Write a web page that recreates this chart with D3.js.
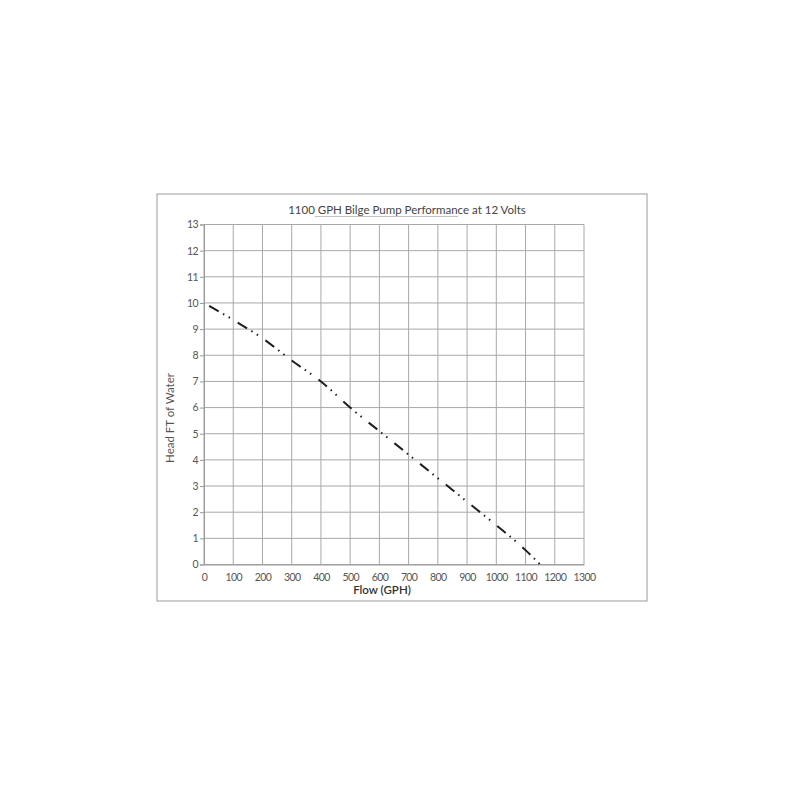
<!DOCTYPE html>
<html>
<head>
<meta charset="utf-8">
<script src="https://cdn.jsdelivr.net/npm/d3@7"></script>
<style>
  body { margin: 0; background: #fff; }
  svg { display: block; }
</style>
</head>
<body>
<svg id="chart" width="800" height="800"></svg>
<script>
const title = "1100 GPH Bilge Pump Performance at 12 Volts";
const xLabel = "Flow (GPH)";
const yLabel = "Head FT of Water";
const xTicks = [0,100,200,300,400,500,600,700,800,900,1000,1100,1200,1300];
const yTicks = [0,1,2,3,4,5,6,7,8,9,10,11,12,13];
const flow = [0, 100, 200, 300, 400, 500, 600, 700, 800, 900, 1000, 1100, 1150];
const head = [10, 9.35, 8.65, 7.8, 7.0, 6.0, 5.1, 4.2, 3.3, 2.4, 1.5, 0.55, 0];

const svg = d3.select("#chart");
const font = "Lato, 'Noto Sans', sans-serif";

// outer frame
svg.append("rect").attr("x", 157).attr("y", 194).attr("width", 490).attr("height", 407)
  .attr("fill", "#fff").attr("stroke", "#9a9a9a").attr("stroke-width", 1);

const m = {left: 204, right: 584, top: 224.5, bottom: 564.5};
const x = d3.scaleLinear().domain([0, 1300]).range([m.left, m.right]);
const y = d3.scaleLinear().domain([0, 13]).range([m.bottom, m.top]);

// grid
const g = svg.append("g");
g.selectAll("line.v").data(xTicks).join("line").attr("class", "v")
  .attr("x1", d => x(d)).attr("x2", d => x(d)).attr("y1", m.top).attr("y2", m.bottom)
  .attr("stroke", "#a8a8a8").attr("stroke-width", 1);
g.selectAll("line.h").data(yTicks).join("line").attr("class", "h")
  .attr("x1", m.left).attr("x2", m.right).attr("y1", d => y(d)).attr("y2", d => y(d))
  .attr("stroke", "#a8a8a8").attr("stroke-width", 1);

// axes
const xAxis = svg.append("g").attr("transform", `translate(0,${m.bottom})`)
  .call(d3.axisBottom(x).tickValues(xTicks).tickFormat(d3.format("d")).tickSize(0).tickPadding(9));
const yAxis = svg.append("g").attr("transform", `translate(${m.left},0)`)
  .call(d3.axisLeft(y).tickValues(yTicks).tickFormat(d3.format("d")).tickSize(4).tickPadding(2));
[xAxis, yAxis].forEach(a => {
  a.select(".domain").attr("stroke", "#999");
  a.selectAll(".tick line").attr("stroke", "#999");
  a.selectAll("text").attr("font-family", font).attr("font-size", 10.5)
    .attr("letter-spacing", -0.6).attr("fill", "#555");
});

// curve
const pts = flow.map((f, i) => [f, head[i]]);
svg.append("path").datum(pts)
  .attr("d", d3.line().x(d => x(d[0])).y(d => y(d[1])).curve(d3.curveMonotoneX))
  .attr("fill", "none").attr("stroke", "#1e1e1e").attr("stroke-width", 2)
  .attr("stroke-dasharray", "11,5,1.5,5,1.5,9")
  .attr("stroke-dashoffset", -6);

// title
svg.append("text").attr("x", 407).attr("y", 214).attr("text-anchor", "middle")
  .attr("font-family", font).attr("font-size", 11.5).attr("fill", "#444").text(title);
svg.append("line").attr("x1", 315).attr("x2", 458).attr("y1", 216.5).attr("y2", 216.5)
  .attr("stroke", "#b0b0b0").attr("stroke-width", 0.8);

// axis labels
svg.append("text").attr("x", 382).attr("y", 594).attr("text-anchor", "middle")
  .attr("font-family", font).attr("font-size", 11.5).attr("font-weight", 600)
  .attr("fill", "#333").text(xLabel);
svg.append("text").attr("transform", "translate(174,418) rotate(-90)").attr("text-anchor", "middle")
  .attr("font-family", font).attr("font-size", 11.5).attr("fill", "#555").text(yLabel);
</script>
</body>
</html>
